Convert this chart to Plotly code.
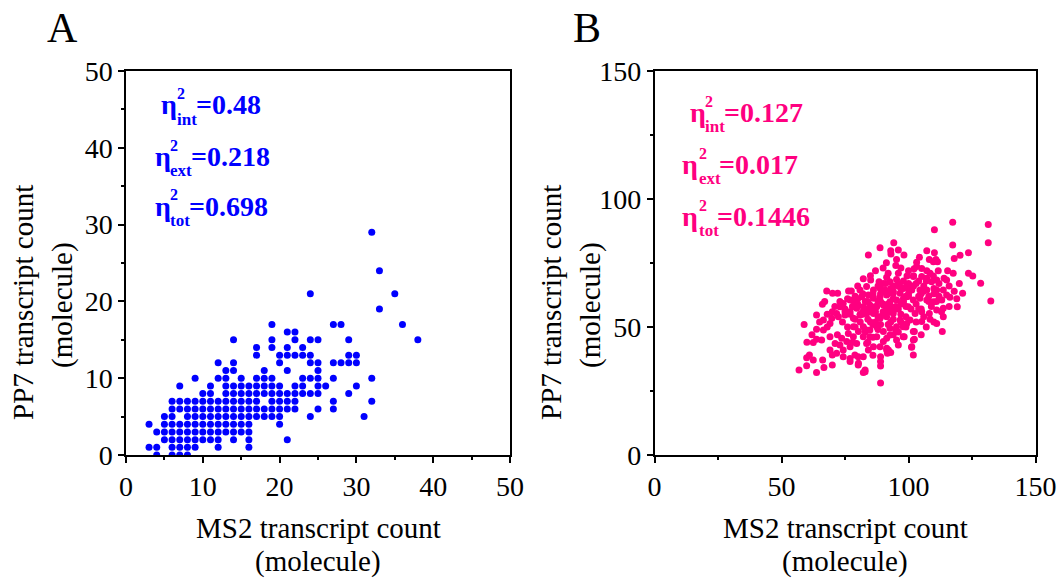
import plotly.graph_objects as go

W, H = 1061, 579
FONT = "Liberation Serif, Times New Roman, serif"
BLUE = "#0000FF"
PINK = "#FF0080"

# ---------------- Panel A data (integer counts, one row per PP7 value) ----------------
a_row_y = [0, 1, 2, 3, 4, 5, 6, 7, 8, 9, 10, 11, 12, 13, 14, 15, 16, 17, 19, 21, 24, 29]
a_row_x = [
    [4, 6, 7, 8],
    [3, 4, 6, 7, 8, 9, 12, 16],
    [5, 6, 7, 8, 9, 10, 11, 12, 14, 16, 21],
    [4, 5, 6, 7, 8, 9, 10, 11, 12, 13, 14, 15, 16],
    [3, 5, 6, 7, 8, 9, 10, 11, 12, 13, 14, 15, 16, 20],
    [5, 6, 8, 9, 10, 11, 12, 13, 14, 15, 16, 17, 18, 19, 20, 24, 31],
    [6, 7, 8, 9, 10, 11, 12, 13, 14, 15, 16, 17, 18, 19, 20, 21, 22, 25, 27],
    [6, 7, 8, 9, 10, 11, 12, 13, 14, 15, 16, 17, 19, 20, 21, 22, 27, 32],
    [10, 11, 13, 14, 15, 16, 17, 18, 19, 20, 21, 22, 23, 24, 25, 29],
    [7, 11, 13, 14, 15, 16, 17, 18, 19, 20, 22, 23, 25, 26, 30],
    [9, 12, 13, 15, 17, 18, 19, 23, 24, 25, 27, 32],
    [13, 14, 18, 21, 25],
    [12, 14, 20, 24, 25, 27, 28, 29, 30],
    [17, 20, 21, 22, 23, 24, 29, 30],
    [17, 19, 21, 23],
    [14, 19, 22, 24, 25, 29, 38],
    [21, 22],
    [19, 27, 28, 36],
    [33],
    [24, 35],
    [33],
    [32],
]

# ---------------- Panel B data ----------------
b_x = [110.2, 117.4, 131.4, 131.4, 117.4, 94.2, 88.8, 93.0, 96.0, 93.1, 98.2, 84.2, 107.2,
       110.2, 110.8, 108.2, 109.8, 111.4, 103.2, 104.3, 123.6, 120.3, 118.0, 91.3, 95.3, 103.2,
       102.2, 105.2, 107.2, 108.5, 109.8, 111.7, 115.4, 117.6, 123.6, 125.3, 128.4, 115.0, 111.1,
       109.1, 107.2, 105.2, 101.9, 99.4, 96.0, 95.3, 92.7, 91.4, 88.4, 85.1, 82.2, 80.9, 83.5,
       86.2, 88.8, 90.8, 94.0, 96.7, 99.3, 101.3, 104.5, 107.2, 111.1, 113.7, 115.0, 121.3, 76.4,
       77.5, 67.8, 70.1, 72.1,
       66.1, 73.0, 74.3, 77.0, 78.9, 81.6, 84.2, 86.2, 88.8, 91.4, 94.0, 96.7, 99.3, 101.9, 104.5,
       107.2, 109.8, 113.1, 116.3, 119.2, 113.7, 111.1, 108.2, 105.2, 102.6, 99.9, 97.9, 95.3,
       92.7, 90.1, 87.5, 84.8, 82.2, 79.6, 77.0, 75.0, 72.4, 69.8, 66.5, 63.8, 69.1, 71.7, 78.3,
       80.9, 83.5, 86.2, 88.8, 91.4, 94.0, 96.7, 99.3, 113.7, 111.1, 105.2, 108.5,
       58.9, 63.8, 66.5, 63.8, 62.5, 65.8, 69.1, 71.1, 73.7, 76.3, 78.3, 80.3, 82.2, 84.8, 87.5,
       90.1, 92.7, 95.3, 97.9, 100.6, 101.9, 97.9, 95.3, 92.7, 90.1, 87.5, 84.8, 82.2, 78.3, 75.7,
       73.0, 77.0, 79.6, 83.5, 86.2, 88.8, 91.4, 113.3, 101.9, 101.3, 91.4,
       61.0, 59.9, 62.5, 66.2, 70.0, 71.7, 74.3, 77.0, 78.9, 80.3, 82.2, 84.2, 89.0, 89.0, 89.0,
       92.1, 91.7, 101.9, 59.9, 66.7, 70.0, 56.9, 63.8, 82.2, 82.9, 89.0, 74.3, 69.1, 77.0,
       132.4, 102.3, 102.3, 101.2, 98.3, 91.4, 82.9, 80.2, 80.2,
       85, 87, 90, 92, 95, 97, 100, 102, 104, 106, 98, 96, 93, 91, 89, 86, 84, 82, 80, 79, 78,
       76, 75, 73, 71, 70, 68, 67, 74, 76, 81, 85, 89, 93, 97, 99, 101, 103, 105, 108, 110, 112,
       114, 107, 100, 98, 95, 92, 90, 87, 84, 82, 80, 77, 79, 83, 86, 88, 94, 96, 99, 103, 106,
       104, 109, 111, 116, 118, 120, 112, 116, 119, 113, 110, 107, 105, 96, 93, 86, 84, 78, 72,
       68, 65, 62, 60,
       88, 90, 92, 94, 96, 98, 100, 102, 86, 88, 91, 94, 97, 99, 101, 104, 83, 85, 87, 89, 92,
       95, 98, 100, 80, 82, 85, 88, 91, 93, 96, 99, 78, 81, 84, 87, 90, 94, 97, 75, 79, 83, 86,
       89, 92, 95, 105, 108, 110, 106, 103, 100, 97, 94, 91]
b_y = [88.0, 90.9, 90.0, 82.9, 82.0, 82.9, 81.0, 79.8, 80.1, 78.5, 78.1, 78.1, 79.8,
       79.0, 76.4, 76.4, 75.5, 75.5, 75.3, 77.2, 79.0, 78.0, 76.8, 75.1, 76.4, 73.6,
       72.8, 72.9, 72.0, 71.0, 69.9, 72.0, 72.0, 71.0, 71.0, 69.9, 67.1, 68.4, 68.4,
       67.7, 69.0, 69.7, 69.7, 69.9, 71.0, 68.6, 67.7, 69.4, 67.7, 68.4, 68.8, 64.5, 65.8,
       64.5, 65.1, 64.5, 66.0, 65.8, 66.4, 64.5, 64.5, 64.5, 64.5, 64.5, 62.5, 63.2, 64.1,
       64.1, 64.1, 63.2, 63.2,
       58.9, 57.9, 59.2, 60.5, 59.9, 61.8, 62.5, 61.2, 61.8, 62.5, 63.2, 63.2, 61.8, 60.5, 61.2,
       60.5, 59.9, 60.5, 61.6, 57.9, 57.3, 56.6, 55.3, 56.0, 55.3, 57.9, 59.2, 60.5,
       59.9, 58.6, 57.9, 58.6, 57.9, 57.3, 56.0, 54.7, 54.0, 53.4, 52.7, 54.7, 51.4, 55.3, 53.4,
       54.7, 55.3, 55.3, 53.4, 54.0, 55.3, 52.7, 51.4, 54.0, 51.4, 52.1, 53.0,
       51.0, 49.1, 48.8, 45.2, 43.9, 44.9, 46.2, 43.6, 45.6, 47.5, 50.1, 48.2, 50.1, 48.8, 50.1,
       48.2, 49.5, 50.1, 50.1, 52.7, 48.2, 46.2, 44.9, 46.9, 44.3, 46.2, 46.2, 46.2, 46.2, 44.3,
       43.0, 42.3, 43.6, 43.6, 42.3, 42.3, 41.7, 48.2, 44.9, 42.3, 45.6,
       39.1, 38.0, 37.1, 37.1, 39.1, 39.7, 38.4, 36.5, 39.1, 35.8, 38.4, 41.0, 38.4, 36.5, 34.8,
       41.0, 39.7, 39.1, 34.9, 34.2, 35.2, 33.2, 32.2, 32.2, 33.2, 28.1, 41.0, 41.0, 37.7,
       60.2, 48.2, 45.2, 42.1, 46.2, 41.0, 32.5, 38.4, 35.2,
       70, 72, 73, 71, 74, 73, 72, 70, 68, 66, 68, 66, 65, 67, 63, 62, 60, 63, 66, 62, 58,
       61, 57, 60, 58, 56, 55, 60, 52, 50, 52, 52, 51, 52, 55, 58, 57, 59, 63, 62, 65, 67,
       69, 68, 63, 61, 58, 56, 59, 56, 57, 55, 59, 55, 50, 48, 46, 49, 47, 48, 50, 52, 54,
       57, 58, 60, 66, 64, 67, 62, 58, 61, 56, 52, 50, 47, 43, 40, 39, 44, 44, 47, 50,
       52, 47, 44,
       66, 67, 63, 64, 67, 65, 67, 66, 63, 60, 64, 61, 65, 62, 66, 62, 60, 56, 58, 60, 59,
       57, 60, 62, 61, 56, 57, 54, 55, 58, 57, 54, 58, 55, 53, 52, 56, 53, 52, 56, 53, 49,
       51, 54, 51, 49, 57, 60, 63, 64, 67, 65, 59, 57, 58]

a_x = [x for xs in a_row_x for x in xs]
a_y = [y for y, xs in zip(a_row_y, a_row_x) for _ in xs]

fig = go.Figure()
fig.add_trace(go.Scatter(x=a_x, y=a_y, mode="markers", xaxis="x", yaxis="y",
                         marker=dict(color=BLUE, size=7, line=dict(width=0))))
fig.add_trace(go.Scatter(x=b_x, y=b_y, mode="markers", xaxis="x2", yaxis="y2",
                         marker=dict(color=PINK, size=7, line=dict(width=0))))


def axis(rng, dtick, minor, domain, anchor):
    return dict(range=rng, dtick=dtick, tick0=0, domain=domain, anchor=anchor,
                automargin=False,
                showline=True, mirror=True, linecolor="black", linewidth=1.5,
                ticks="outside", ticklen=6, tickwidth=1.5, tickcolor="black",
                minor=dict(dtick=minor, tick0=0, ticks="outside", ticklen=3,
                           tickwidth=1.5, tickcolor="black"),
                showgrid=False, zeroline=False,
                tickfont=dict(family=FONT, size=28, color="black"))


ydom = [(H - 455) / H, (H - 71) / H]
fig.update_layout(
    width=W, height=H, margin=dict(l=0, r=0, t=0, b=0, pad=0, autoexpand=False),
    paper_bgcolor="white", plot_bgcolor="white", showlegend=False,
    xaxis=axis([0, 50], 10, 5, [126 / W, 510 / W], "y"),
    yaxis=axis([0, 50], 10, 5, ydom, "x"),
    xaxis2=axis([0, 150], 50, 25, [654.5 / W, 1035.5 / W], "y2"),
    yaxis2=axis([0, 150], 50, 25, ydom, "x2"),
)


def ann(text, px, py, size, color="black", xanchor="left", angle=0):
    return dict(text=text, x=px / W, y=1 - py / H, xref="paper", yref="paper",
                showarrow=False, xanchor=xanchor, yanchor="middle", textangle=angle,
                font=dict(family=FONT, size=size, color=color), borderpad=0)


anns = []
# panel letters
anns.append(ann("A", 62, 28, 42, xanchor="center"))
anns.append(ann("B", 587, 28, 42, xanchor="center"))

# axis titles
for off in (0, 528):
    anns.append(ann("PP7 transcript count", 23 + off, 303, 29, xanchor="center", angle=-90))
    anns.append(ann("(molecule)", 62 + off, 305, 29, xanchor="center", angle=-90))
for cx in (318, 845):
    anns.append(ann("MS2 transcript count", cx, 528, 29, xanchor="center"))
    anns.append(ann("(molecule)", cx, 561, 29, xanchor="center"))

# eta annotations: (sub, value, eta_left, base_y, sub_left, eq_left)
eta_a = [("int", "=0.48", 160, 105, 176, 195),
         ("ext", "=0.218", 154, 156, 169, 190),
         ("tot", "=0.698", 154, 206, 169, 188)]
eta_b = [("int", "=0.127", 689, 113, 704, 723),
         ("ext", "=0.017", 681, 164, 698, 718),
         ("tot", "=0.1446", 681, 216, 698, 716)]
for rows, col in ((eta_a, BLUE), (eta_b, PINK)):
    for sub, val, ex, by, sx, qx in rows:
        anns.append(ann("<b>η</b>", ex, by, 28, col))
        anns.append(ann("<b>2</b>", sx, by - 11, 16, col))
        anns.append(ann("<b>" + sub + "</b>", sx, by + 14, 17, col))
        anns.append(ann("<b>" + val + "</b>", qx, by, 28, col))

fig.update_layout(annotations=anns)
fig.write_html("out.html")
